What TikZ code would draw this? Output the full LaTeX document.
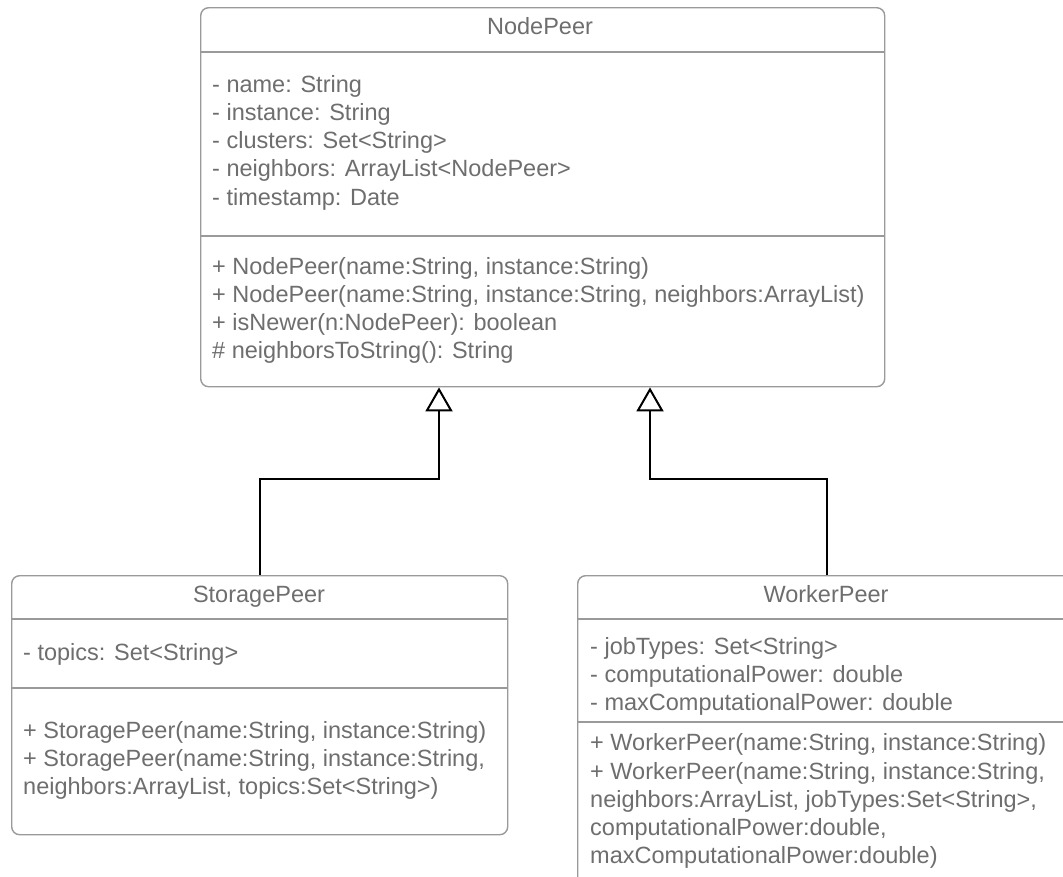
\documentclass[tikz,border=0pt]{standalone}
\usepackage{fontspec}
\setmainfont{Liberation Sans}
\usetikzlibrary{arrows.meta,calc}

\definecolor{txtgray}{HTML}{6E6E6E}
\definecolor{linegray}{HTML}{9A9A9A}

% rows of a compartment, stacked so that the box baseline is the first row's
\newcommand\umlrows[1]{\vtop{\halign{##\hfil\cr#1\crcr}}}

\tikzset{
  classbox/.style={draw=linegray, line width=1.4pt, rounded corners=8pt,
    rectangle, anchor=north west, inner sep=0pt, fill=white},
  sepline/.style={draw=linegray, line width=1.4pt},
  umltxt/.style={text=txtgray, inner sep=0pt, anchor=base west,
    font=\fontsize{23.5}{28.3}\selectfont},
  umltitle/.style={umltxt, anchor=base},
  inherit/.style={draw=black, line width=2pt,
    -{Triangle[open, length=24pt, width=27pt, line width=2pt]}},
}

\begin{document}
\begin{tikzpicture}[x=1pt, y=-1pt]
\useasboundingbox (0,0) rectangle (1063,876);
\fill[white] (0,0) rectangle (1063,876);
\begin{scope}
\clip (0,0) rectangle (1063,876);

% NodePeer class
\node[classbox, minimum width=684pt, minimum height=379pt] (np) at (200,7) {};
\draw[sepline] (200,52) -- (884,52);
\draw[sepline] (200,236) -- (884,236);
\node[umltitle] (nptitle) at (540,34.5) {NodePeer};
\node[umltxt] (npattr) at (212,92) {\umlrows{%
- name: String\cr
- instance: String\cr
- clusters: Set<String>\cr
- neighbors: ArrayList<NodePeer>\cr
- timestamp: Date}};
\node[umltxt] (npops) at (212,274) {\umlrows{%
+ NodePeer(name:String, instance:String)\cr
+ NodePeer(name:String, instance:String, neighbors:ArrayList)\cr
+ isNewer(n:NodePeer): boolean\cr
\# neighborsToString(): String}};

% StoragePeer class
\node[classbox, minimum width=496pt, minimum height=259pt] (sp) at (11,575) {};
\draw[sepline] (11,619) -- (507,619);
\draw[sepline] (11,688) -- (507,688);
\node[umltitle] (sptitle) at (259,602) {StoragePeer};
\node[umltxt] (spattr) at (23,660) {- topics: Set<String>};
\node[umltxt] (spops) at (23,738.3) {\umlrows{%
+ StoragePeer(name:String, instance:String)\cr
+ StoragePeer(name:String, instance:String,\cr
neighbors:ArrayList, topics:Set<String>)}};

% WorkerPeer class
\node[classbox, minimum width=498pt, minimum height=330pt] (wp) at (577,575) {};
\draw[sepline] (577,619) -- (1075,619);
\draw[sepline] (577,722) -- (1075,722);
\node[umltitle] (wptitle) at (826,602) {WorkerPeer};
\node[umltxt] (wpattr) at (590,654) {\umlrows{%
- jobTypes: Set<String>\cr
- computationalPower: double\cr
- maxComputationalPower: double}};
\node[umltxt] (wpops) at (590,750.7) {\umlrows{%
+ WorkerPeer(name:String, instance:String)\cr
+ WorkerPeer(name:String, instance:String,\cr
neighbors:ArrayList, jobTypes:Set<String>,\cr
computationalPower:double,\cr
maxComputationalPower:double)}};

% generalization connectors
\draw[inherit] (sp.north) -- ++(0,-96) -| ($(np.south west)+(239,0)$);
\draw[inherit] (wp.north) -- ++(0,-96) -| ($(np.south west)+(450,0)$);
\end{scope}
\end{tikzpicture}
\end{document}
